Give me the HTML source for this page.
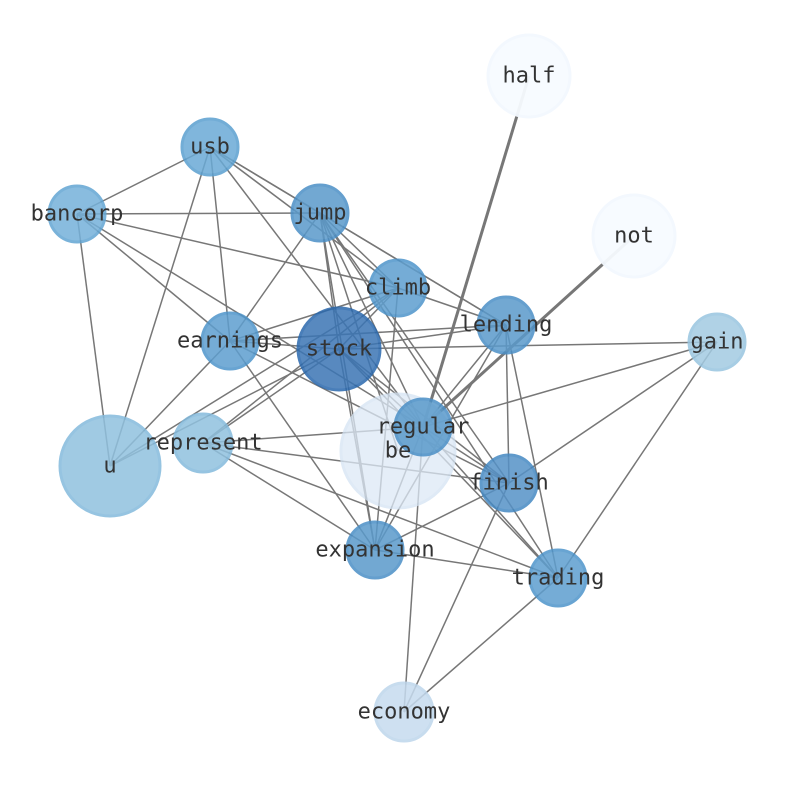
<!DOCTYPE html>
<html><head><meta charset="utf-8"><style>body{margin:0;background:#fff}svg{display:block}text{font-family:"DejaVu Sans Mono","Liberation Mono",monospace;font-size:22px;fill:#333;text-anchor:middle;dominant-baseline:central}</style></head><body>
<svg width="794" height="790" viewBox="0 0 794 790">
<g stroke="#777" stroke-width="1.5" fill="none">
<line x1="210" y1="147" x2="77" y2="214"/>
<line x1="210" y1="147" x2="320" y2="213"/>
<line x1="210" y1="147" x2="398" y2="288"/>
<line x1="210" y1="147" x2="506" y2="325"/>
<line x1="210" y1="147" x2="230" y2="341"/>
<line x1="210" y1="147" x2="110" y2="466"/>
<line x1="210" y1="147" x2="423" y2="427"/>
<line x1="77" y1="214" x2="320" y2="213"/>
<line x1="77" y1="214" x2="398" y2="288"/>
<line x1="77" y1="214" x2="230" y2="341"/>
<line x1="77" y1="214" x2="110" y2="466"/>
<line x1="77" y1="214" x2="423" y2="427"/>
<line x1="320" y1="213" x2="230" y2="341"/>
<line x1="320" y1="213" x2="375" y2="550"/>
<line x1="320" y1="213" x2="339" y2="349"/>
<line x1="320" y1="213" x2="398" y2="288"/>
<line x1="320" y1="213" x2="506" y2="325"/>
<line x1="320" y1="213" x2="423" y2="427"/>
<line x1="320" y1="213" x2="509" y2="483"/>
<line x1="320" y1="213" x2="558" y2="578"/>
<line x1="320" y1="213" x2="398" y2="451"/>
<line x1="398" y1="288" x2="230" y2="341"/>
<line x1="398" y1="288" x2="339" y2="349"/>
<line x1="398" y1="288" x2="110" y2="466"/>
<line x1="398" y1="288" x2="375" y2="550"/>
<line x1="398" y1="288" x2="506" y2="325"/>
<line x1="398" y1="288" x2="203" y2="443"/>
<line x1="506" y1="325" x2="339" y2="349"/>
<line x1="506" y1="325" x2="230" y2="341"/>
<line x1="506" y1="325" x2="423" y2="427"/>
<line x1="506" y1="325" x2="509" y2="483"/>
<line x1="506" y1="325" x2="558" y2="578"/>
<line x1="506" y1="325" x2="375" y2="550"/>
<line x1="717" y1="342" x2="339" y2="349"/>
<line x1="717" y1="342" x2="423" y2="427"/>
<line x1="717" y1="342" x2="509" y2="483"/>
<line x1="717" y1="342" x2="558" y2="578"/>
<line x1="230" y1="341" x2="339" y2="349"/>
<line x1="230" y1="341" x2="375" y2="550"/>
<line x1="230" y1="341" x2="110" y2="466"/>
<line x1="230" y1="341" x2="509" y2="483"/>
<line x1="339" y1="349" x2="110" y2="466"/>
<line x1="339" y1="349" x2="203" y2="443"/>
<line x1="339" y1="349" x2="423" y2="427"/>
<line x1="339" y1="349" x2="509" y2="483"/>
<line x1="339" y1="349" x2="558" y2="578"/>
<line x1="339" y1="349" x2="375" y2="550"/>
<line x1="203" y1="443" x2="423" y2="427"/>
<line x1="203" y1="443" x2="509" y2="483"/>
<line x1="203" y1="443" x2="375" y2="550"/>
<line x1="203" y1="443" x2="558" y2="578"/>
<line x1="423" y1="427" x2="375" y2="550"/>
<line x1="423" y1="427" x2="404" y2="712"/>
<line x1="423" y1="427" x2="509" y2="483"/>
<line x1="423" y1="427" x2="558" y2="578"/>
<line x1="509" y1="483" x2="375" y2="550"/>
<line x1="509" y1="483" x2="404" y2="712"/>
<line x1="375" y1="550" x2="558" y2="578"/>
<line x1="558" y1="578" x2="404" y2="712"/>
<line x1="423" y1="427" x2="529" y2="76" stroke-width="3"/>
<line x1="423" y1="427" x2="634" y2="236" stroke-width="3"/>
</g>
<g stroke-width="3">
<circle cx="529" cy="76" r="41" fill="#f7fbff" stroke="#f3f8fe" opacity="0.95"/>
<circle cx="634" cy="236" r="41" fill="#f7fbff" stroke="#f3f8fe" opacity="0.95"/>
<circle cx="398" cy="451" r="57" fill="#dde9f6" stroke="#d5e4f3" opacity="0.75"/>
<circle cx="210" cy="147" r="28" fill="#6aaad6" stroke="#5a9fd0" opacity="0.85"/>
<circle cx="77" cy="214" r="28" fill="#75b1da" stroke="#62a5d3" opacity="0.85"/>
<circle cx="320" cy="213" r="28" fill="#5a9acb" stroke="#4b8fc6" opacity="0.85"/>
<circle cx="398" cy="288" r="28" fill="#5e9ecf" stroke="#4e95cb" opacity="0.85"/>
<circle cx="506" cy="325" r="28" fill="#5a9acb" stroke="#4b8fc6" opacity="0.85"/>
<circle cx="717" cy="342" r="28" fill="#a3cbe2" stroke="#98c5e0" opacity="0.85"/>
<circle cx="230" cy="341" r="28" fill="#5e9ecf" stroke="#4e95cb" opacity="0.85"/>
<circle cx="339" cy="349" r="41" fill="#3b75b5" stroke="#2a68ad" opacity="0.85"/>
<circle cx="110" cy="466" r="50" fill="#90c1df" stroke="#84badc" opacity="0.85"/>
<circle cx="203" cy="443" r="29" fill="#90c1df" stroke="#84badc" opacity="0.85"/>
<circle cx="423" cy="427" r="28" fill="#5a9acb" stroke="#4b8fc6" opacity="0.85"/>
<circle cx="509" cy="483" r="28" fill="#5592c7" stroke="#4589c3" opacity="0.85"/>
<circle cx="375" cy="550" r="28" fill="#5a9acb" stroke="#4b8fc6" opacity="0.85"/>
<circle cx="558" cy="578" r="28" fill="#5e9ecf" stroke="#4e95cb" opacity="0.85"/>
<circle cx="404" cy="712" r="29" fill="#c6dbef" stroke="#bed6ec" opacity="0.85"/>
</g>
<text x="529" y="76">half</text>
<text x="634" y="236">not</text>
<text x="398" y="451">be</text>
<text x="210" y="147">usb</text>
<text x="77" y="214">bancorp</text>
<text x="320" y="213">jump</text>
<text x="398" y="288">climb</text>
<text x="506" y="325">lending</text>
<text x="717" y="342">gain</text>
<text x="230" y="341">earnings</text>
<text x="339" y="349">stock</text>
<text x="110" y="466">u</text>
<text x="203" y="443">represent</text>
<text x="423" y="427">regular</text>
<text x="509" y="483">finish</text>
<text x="375" y="550">expansion</text>
<text x="558" y="578">trading</text>
<text x="404" y="712">economy</text>
</svg>
</body></html>
